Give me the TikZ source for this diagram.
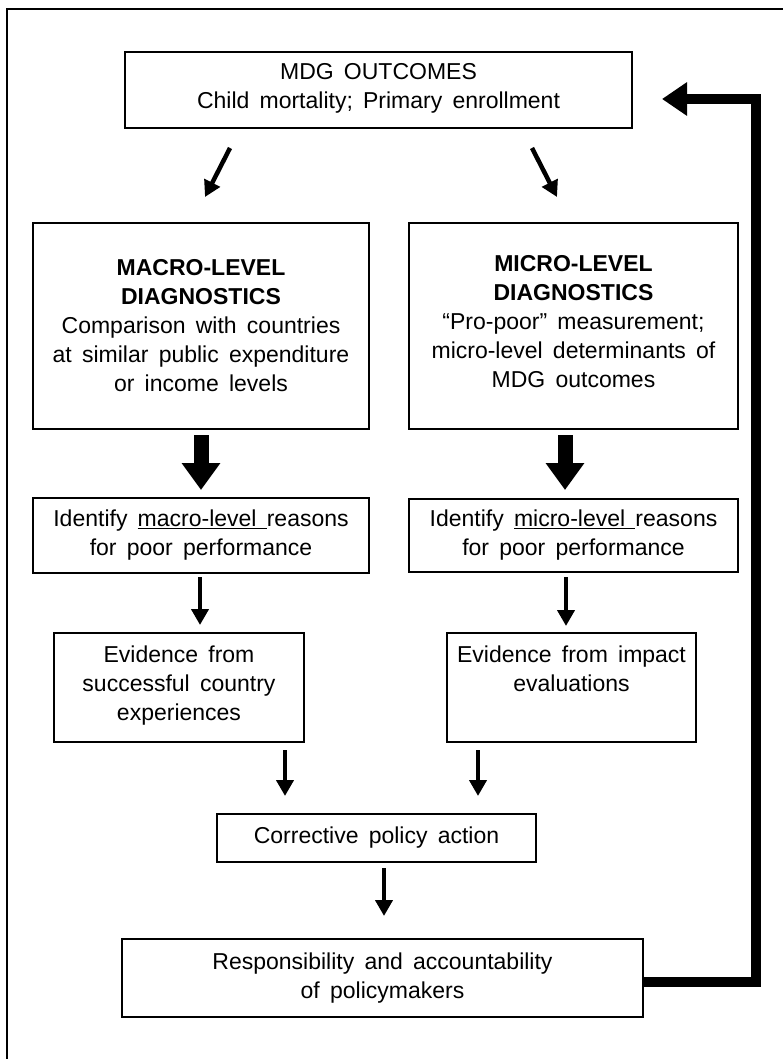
\documentclass[tikz,border=0pt]{standalone}
\usepackage{fontspec}
\setmainfont{Liberation Sans}[WordSpace=1.6]
\usetikzlibrary{arrows.meta}
\begin{document}
\begin{tikzpicture}[x=1pt,y=-1pt,
  box/.style={draw, line width=2pt, rectangle, align=center, inner sep=0pt,
    font=\fontsize{23}{29}\selectfont},
  smallarrow/.style={line width=4.5pt, -{Triangle[width=17pt,length=16pt]}},
  bigarrow/.style={line width=15pt, -{Triangle[width=37pt,length=27pt]}},
  fbarrow/.style={line width=10pt, line join=miter, -{Triangle[width=32pt,length=25pt]}}]
\useasboundingbox (0,0) rectangle (783,1059);
\draw[line width=2pt] (7,1059) -- (7,9.5) -- (783,9.5);

\node[box, minimum width=507pt, minimum height=76pt] (top) at (378.5,90)
  {MDG OUTCOMES\\Child mortality; Primary enrollment\\[-20pt]\mbox{}};
\node[box, minimum width=336pt, minimum height=206pt] (macro) at (201,326)
  {\textbf{MACRO-LEVEL}\\\textbf{DIAGNOSTICS}\\Comparison with countries\\at similar public expenditure\\or income levels};
\node[box, minimum width=329pt, minimum height=206pt] (micro) at (573.5,326)
  {\textbf{MICRO-LEVEL}\\\textbf{DIAGNOSTICS}\\“Pro-poor” measurement;\\micro-level determinants of\\MDG outcomes\\[-20pt]\mbox{}};
\node[box, minimum width=336pt, minimum height=75pt] (idmac) at (201,535.5)
  {Identify \underline{macro-level~}reasons\\for poor performance};
\node[box, minimum width=329pt, minimum height=73pt] (idmic) at (573.5,535.5)
  {Identify \underline{micro-level~}reasons\\for poor performance};
\node[box, minimum width=250pt, minimum height=109pt] (evmac) at (179,687.5)
  {Evidence from\\successful country\\experiences\\[-20pt]\mbox{}};
\node[box, minimum width=249pt, minimum height=109pt] (evmic) at (571.5,687.5)
  {Evidence from impact\\evaluations\\\mbox{}\\[-20pt]\mbox{}};
\node[box, minimum width=319pt, minimum height=48pt] (corr) at (376.5,838)
  {Corrective policy action};
\node[box, minimum width=521pt, minimum height=78pt] (resp) at (382.5,978)
  {Responsibility and accountability\\of policymakers};

\coordinate (d1s) at (230,148); \coordinate (d1e) at (205,197);
\coordinate (d2s) at (532,148); \coordinate (d2e) at (557,197);
\draw[smallarrow] (d1s) -- (d1e);
\draw[smallarrow] (d2s) -- (d2e);

\coordinate (b1s) at (201,435); \coordinate (b1e) at (201,490);
\coordinate (b2s) at (565,435); \coordinate (b2e) at (565,490);
\draw[bigarrow] (b1s) -- (b1e);
\draw[bigarrow] (b2s) -- (b2e);

\coordinate (s1s) at (200,577); \coordinate (s1e) at (200,625);
\coordinate (s2s) at (566,577); \coordinate (s2e) at (566,626);
\coordinate (s3s) at (285,750); \coordinate (s3e) at (285,796);
\coordinate (s4s) at (478,750); \coordinate (s4e) at (478,796);
\coordinate (s5s) at (384,868); \coordinate (s5e) at (384,916);
\draw[smallarrow] (s1s) -- (s1e);
\draw[smallarrow] (s2s) -- (s2e);
\draw[smallarrow] (s3s) -- (s3e);
\draw[smallarrow] (s4s) -- (s4e);
\draw[smallarrow] (s5s) -- (s5e);

\coordinate (fb1) at (755.5,982);
\coordinate (fb2) at (755.5,99);
\coordinate (fbtip) at (662,99);
\draw[fbarrow] (resp.east |- fb1) -- (fb1) -- (fb2) -- (fbtip);
\end{tikzpicture}
\end{document}
